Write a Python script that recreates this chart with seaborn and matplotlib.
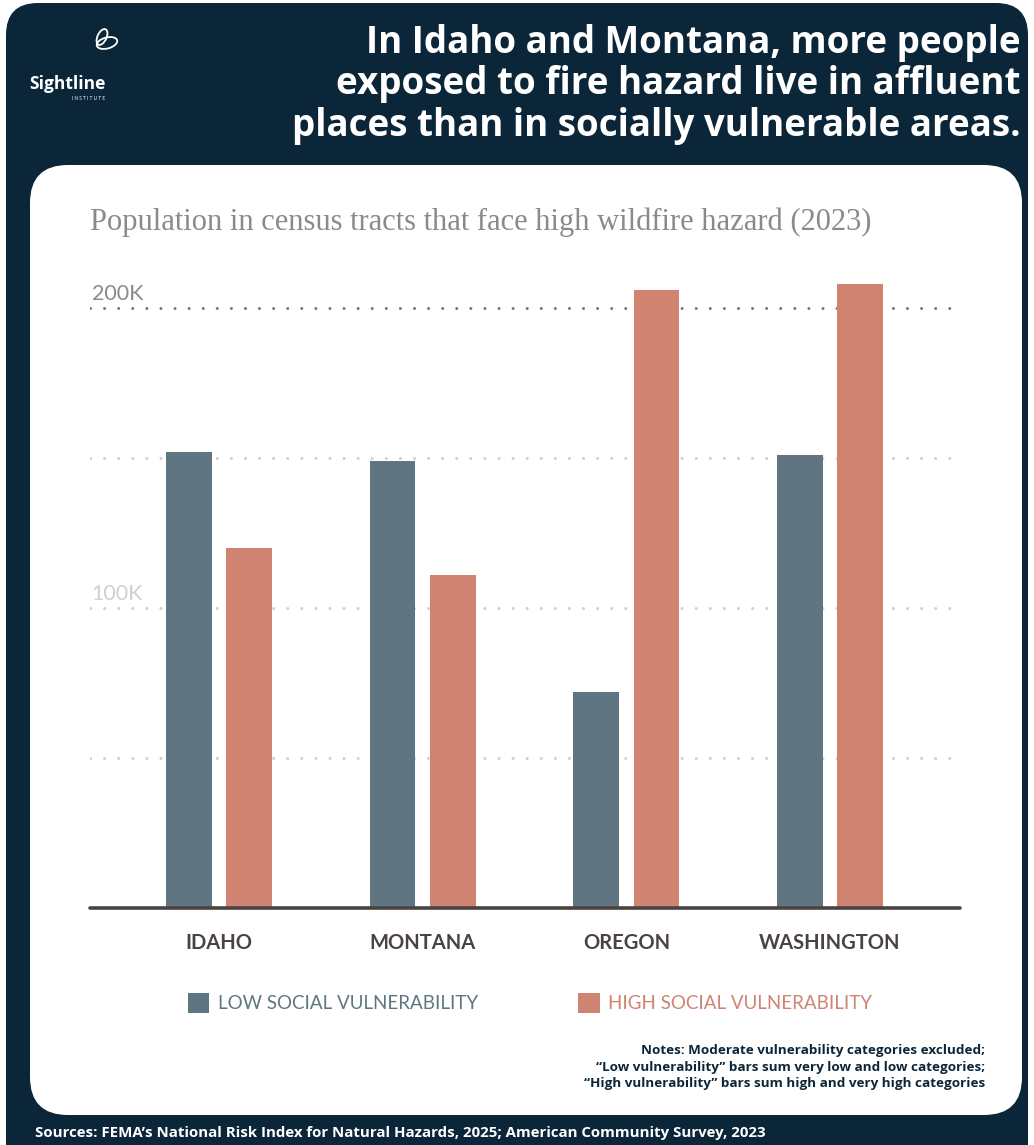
import matplotlib
matplotlib.use("Agg")
import matplotlib.pyplot as plt
import seaborn as sns
import pandas as pd
from matplotlib.patches import FancyBboxPatch, Ellipse

# ---------------- data ----------------
states = ["Idaho", "Montana", "Oregon", "Washington"]
state_labels = ["IDAHO", "MONTANA", "OREGON", "WASHINGTON"]
low_vuln = [152000, 149000, 72000, 151000]
high_vuln = [120000, 111000, 206000, 208000]
series_names = ["Low social vulnerability", "High social vulnerability"]
legend_labels = ["LOW SOCIAL VULNERABILITY", "HIGH SOCIAL VULNERABILITY"]
label_vals = [100000, 200000]
label_texts = ["100K", "200K"]
grid_vals = [50000, 100000, 150000, 200000]

title = ("In Idaho and Montana, more people\n"
         "exposed to fire hazard live in affluent\n"
         "places than in socially vulnerable areas.")
subtitle = "Population in census tracts that face high wildfire hazard (2023)"
notes = ("Notes: Moderate vulnerability categories excluded;\n"
         "\u201cLow vulnerability\u201d bars sum very low and low categories;\n"
         "\u201cHigh vulnerability\u201d bars sum high and very high categories")
sources = "Sources: FEMA\u2019s National Risk Index for Natural Hazards, 2025; American Community Survey, 2023"

NAVY = "#0b2639"
LOW_C = "#5f7682"
HIGH_C = "#cf8370"
TXT = "#4a4340"

sns.set_theme(style="white")
plt.rcParams["font.family"] = ["Lato", "DejaVu Sans"]

W, H = 1034, 1145
fig = plt.figure(figsize=(W / 100, H / 100), dpi=100)
fig.patch.set_facecolor("white")

# background panels in pixel coordinates
bg = fig.add_axes([0, 0, 1, 1], zorder=0)
bg.set_xlim(0, W)
bg.set_ylim(H, 0)
bg.axis("off")
bg.add_patch(FancyBboxPatch((6, 3), 1022, 1250,
                            boxstyle="round,pad=0,rounding_size=32",
                            fc=NAVY, ec="none"))
bg.add_patch(FancyBboxPatch((30, 165), 992, 950,
                            boxstyle="round,pad=0,rounding_size=38",
                            fc="white", ec="none"))
# logo icon
bg.add_patch(Ellipse((102, 37), 9, 17, angle=25, fc="none", ec="white", lw=1.3))
bg.add_patch(Ellipse((107, 43), 21, 11, angle=-15, fc="none", ec="white", lw=1.3))
bg.text(29, 84, "Sightline", color="white", fontsize=12.5, fontweight="bold",
        va="center", ha="left", family=["Open Sans", "DejaVu Sans"])
bg.text(105, 98, "I N S T I T U T E", color="white", fontsize=3.4, va="center", ha="right")

# ---------------- main chart ----------------
ax_left, ax_right = 90, 960
base_y, top_y = 908, 263
ax = fig.add_axes([ax_left / W, (H - base_y) / H, (ax_right - ax_left) / W,
                   (base_y - top_y) / H], zorder=2)
ax.patch.set_alpha(0)

df = pd.DataFrame({
    "state": states * 2,
    "series": [series_names[0]] * len(states) + [series_names[1]] * len(states),
    "value": low_vuln + high_vuln,
})

for v in grid_vals:
    col = "#7a7a7a" if v == 200000 else "#cfcfcf"
    ax.axhline(v, color=col, lw=2.2, linestyle=(0, (0.01, 4.6)),
               dash_capstyle="round", zorder=0)

sns.barplot(data=df, x="state", y="value", hue="series",
            palette=[LOW_C, HIGH_C], width=0.59, gap=0.24,
            linewidth=0, saturation=1, ax=ax, zorder=2)

ax.axhline(0, color=TXT, lw=2.6, zorder=3, clip_on=False)

ax.set_xlim(-0.633, 3.638)
ax.set_ylim(0, 215000)
ax.set_yticks([])
ax.set_xlabel("")
ax.set_ylabel("")
for s in ax.spines.values():
    s.set_visible(False)
ax.set_xticks(range(len(states)))
ax.set_xticklabels(state_labels, fontsize=14.5, fontweight="bold", color=TXT)
ax.tick_params(axis="x", length=0, pad=18)

for v, t in zip(label_vals, label_texts):
    col = "#8a8a8a" if v == 200000 else "#d0d0d0"
    ax.text(0.002, v + 1500, t, transform=ax.get_yaxis_transform(),
            ha="left", va="bottom", fontsize=15.5, color=col)

# legend
handles, _ = ax.get_legend_handles_labels()
if ax.get_legend():
    ax.get_legend().remove()
leg = fig.legend(handles, legend_labels, loc="center left",
                 bbox_to_anchor=(171 / W, 1 - 1003 / H), ncol=2, frameon=False,
                 fontsize=13.5, handlelength=1.15, handleheight=1.3,
                 handletextpad=0.45, columnspacing=5.35)
for txt, c in zip(leg.get_texts(), [LOW_C, HIGH_C]):
    txt.set_color(c)

# ---------------- texts ----------------
fig.text(1021 / W, 1 - 24 / H, title, ha="right", va="top", color="white",
         fontsize=26.5, fontweight="bold", linespacing=1.12,
         family=["Open Sans", "DejaVu Sans"])
fig.text(90 / W, 1 - 222 / H, subtitle, ha="left", va="center",
         color="#8a8a8a", fontsize=22, family=["Liberation Serif", "DejaVu Serif"])
fig.text(985 / W, 1 - 1044 / H, notes, ha="right", va="top", color=NAVY,
         fontsize=9.7, fontweight="bold", linespacing=1.35, multialignment="right",
         family=["Open Sans", "DejaVu Sans"])
fig.text(35 / W, 1 - 1133 / H, sources, ha="left", va="center", color="white",
         fontsize=10.8, fontweight="bold", family=["Open Sans", "DejaVu Sans"])

fig.savefig("out.png", dpi=100)
